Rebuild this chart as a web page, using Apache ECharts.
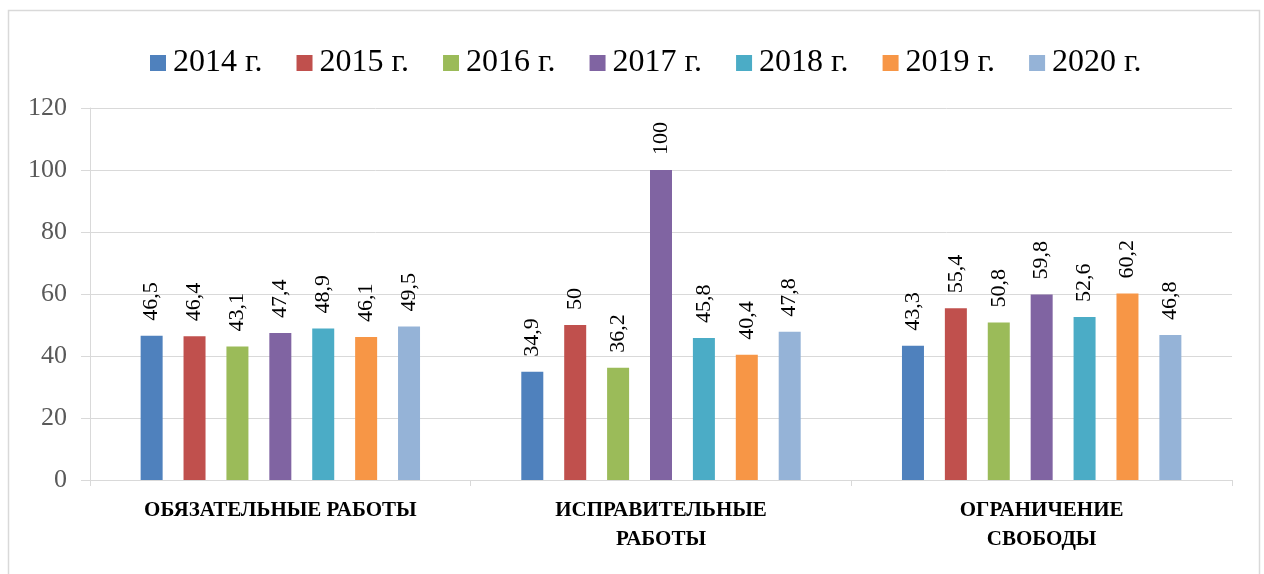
<!DOCTYPE html>
<html>
<head>
<meta charset="utf-8">
<script src="https://cdn.jsdelivr.net/npm/echarts@6/dist/echarts.min.js"></script>
<style>
html,body{margin:0;padding:0;background:#fff;}
#c{width:1264px;height:574px;}
</style>
</head>
<body>
<div id="c"></div>
<script>
const categories = ['ОБЯЗАТЕЛЬНЫЕ РАБОТЫ', 'ИСПРАВИТЕЛЬНЫЕ РАБОТЫ', 'ОГРАНИЧЕНИЕ СВОБОДЫ'];
const years = ['2014 г.', '2015 г.', '2016 г.', '2017 г.', '2018 г.', '2019 г.', '2020 г.'];
const v2014 = [46.5, 34.9, 43.3];
const v2015 = [46.4, 50, 55.4];
const v2016 = [43.1, 36.2, 50.8];
const v2017 = [47.4, 100, 59.8];
const v2018 = [48.9, 45.8, 52.6];
const v2019 = [46.1, 40.4, 60.2];
const v2020 = [49.5, 47.8, 46.8];
const yTicks = [0, 20, 40, 60, 80, 100, 120];

const colors = ['#4f81bd', '#c0504d', '#9bbb59', '#8064a2', '#4bacc6', '#f79646', '#95b3d7'];
const allValues = [v2014, v2015, v2016, v2017, v2018, v2019, v2020];
const catLabels = {
  'ОБЯЗАТЕЛЬНЫЕ РАБОТЫ': 'ОБЯЗАТЕЛЬНЫЕ РАБОТЫ',
  'ИСПРАВИТЕЛЬНЫЕ РАБОТЫ': 'ИСПРАВИТЕЛЬНЫЕ\nРАБОТЫ',
  'ОГРАНИЧЕНИЕ СВОБОДЫ': 'ОГРАНИЧЕНИЕ\nСВОБОДЫ'
};

const chart = echarts.init(document.getElementById('c'), null, {renderer: 'canvas'});
const serif = '"Liberation Serif", "Times New Roman", serif';
chart.setOption({
  animation: false,
  color: colors,
  graphic: [{
    type: 'rect', silent: true,
    shape: {x: 8.5, y: 10.5, width: 1251, height: 580},
    style: {fill: 'none', stroke: '#d9d9d9', lineWidth: 1.5}
  }],
  legend: {
    top: 42, left: 145,
    itemWidth: 16, itemHeight: 16, itemGap: 34,
    icon: 'rect',
    textStyle: {fontFamily: serif, fontSize: 32, color: '#000', padding: [0, 0, 0, 2]},
    data: years
  },
  grid: {left: 90, right: 32, top: 108, bottom: 94, containLabel: false},
  xAxis: {
    type: 'category', data: categories,
    axisLine: {lineStyle: {color: '#d9d9d9', width: 1}},
    axisTick: {show: true, length: 6, lineStyle: {color: '#d9d9d9'}},
    axisLabel: {
      interval: 0, margin: 16,
      fontFamily: serif, fontWeight: 'bold', fontSize: 21, color: '#000', lineHeight: 29,
      formatter: v => catLabels[v] || v
    }
  },
  yAxis: {
    type: 'value', min: 0, max: 120, interval: 20,
    axisLine: {show: true, lineStyle: {color: '#d9d9d9'}},
    axisTick: {show: true, length: 9, lineStyle: {color: '#d9d9d9'}},
    splitLine: {lineStyle: {color: '#d9d9d9', width: 1}},
    axisLabel: {fontFamily: serif, fontSize: 26, color: '#595959', margin: 23,
      formatter: v => yTicks.includes(v) ? String(v) : ''}
  },
  series: years.map((y, i) => ({
    name: y, type: 'bar', data: allValues[i],
    barWidth: 22, barGap: '95%',
    itemStyle: {color: colors[i]},
    label: {
      show: true, position: 'top', rotate: 90, align: 'left', verticalAlign: 'middle',
      distance: 15, fontFamily: serif, fontSize: 22, color: '#000',
      formatter: p => String(p.value).replace('.', ',')
    }
  }))
});
</script>
</body>
</html>
